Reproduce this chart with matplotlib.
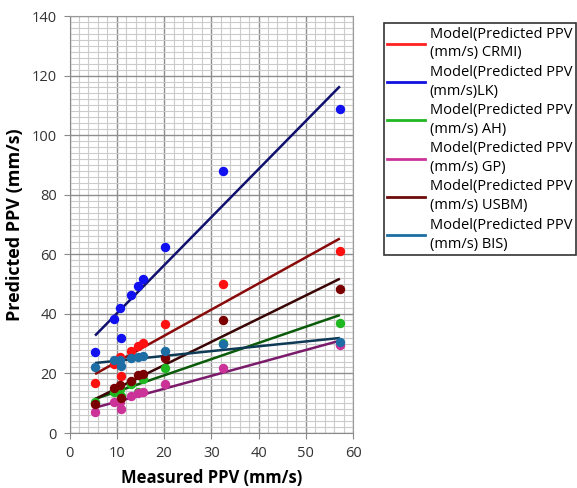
import matplotlib
matplotlib.use("Agg")
import matplotlib.pyplot as plt
from matplotlib.lines import Line2D
from matplotlib.ticker import MultipleLocator

# === DATA ===
measured = [5.4, 9.4, 10.7, 10.9, 13.0, 14.4, 15.6, 20.3, 32.5, 57.2]

crmi = [16.8, 23.2, 25.5, 19.2, 27.4, 29.3, 30.2, 36.5, 49.9, 61.1]
lk = [27.1, 38.3, 42.0, 31.9, 46.4, 49.3, 51.7, 62.5, 87.8, 108.8]
ah = [10.5, 13.7, 14.8, 12.5, 16.4, 13.9, 18.0, 21.9, 30.3, 37.0]
gp = [6.9, 10.3, 10.5, 8.2, 12.4, 13.3, 13.9, 16.6, 21.7, 29.5]
usbm = [9.7, 15.2, 16.1, 11.6, 17.4, 19.4, 19.9, 25.3, 37.8, 48.4]
bis = [22.1, 24.5, 24.6, 22.6, 25.3, 25.5, 25.9, 27.4, 29.9, 30.5]

# model (trend) lines: value at first and last measured point
line_x = [5.4, 57.2]
crmi_line = [19.8, 65.3]
lk_line = [32.7, 116.4]
ah_line = [11.4, 39.6]
gp_line = [8.5, 31.0]
usbm_line = [11.4, 51.8]
bis_line = [23.5, 31.9]

labels = ["Model(Predicted PPV\n(mm/s) CRMI)", "Model(Predicted PPV\n(mm/s)LK)",
          "Model(Predicted PPV\n(mm/s) AH)", "Model(Predicted PPV\n(mm/s) GP)",
          "Model(Predicted PPV\n(mm/s) USBM)", "Model(Predicted PPV\n(mm/s) BIS)"]

# === STYLE ===
point_colors = ["#FF1010", "#1010F0", "#20B820", "#CC3399", "#7A0000", "#1E6EA6"]
line_colors = ["#8A0A0A", "#10106E", "#0A5A0A", "#7A1A6A", "#3A0505", "#0E3A55"]
legend_colors = ["#FF2020", "#1010E0", "#20B820", "#CC3399", "#6E0A0A", "#1E6EA6"]

plt.rcParams["font.family"] = ["Open Sans", "DejaVu Sans"]

fig = plt.figure(figsize=(5.77, 4.88), dpi=100)
ax = fig.add_axes([0.1205, 0.1127, 0.4915, 0.8545])

series = [crmi, lk, ah, gp, usbm, bis]
lines = [crmi_line, lk_line, ah_line, gp_line, usbm_line, bis_line]

for lv, lc in zip(lines, line_colors):
    ax.plot(line_x, lv, color=lc, lw=1.8, zorder=3, solid_capstyle="butt")
for vals, pc in zip(series, point_colors):
    ax.scatter(measured, vals, s=46, color=pc, zorder=4, linewidths=0)

ax.set_xlim(0, 60)
ax.set_ylim(0, 140)
ax.xaxis.set_major_locator(MultipleLocator(10))
ax.xaxis.set_minor_locator(MultipleLocator(2))
ax.yaxis.set_major_locator(MultipleLocator(20))
ax.yaxis.set_minor_locator(MultipleLocator(2))
ax.grid(True, which="major", color="#8E8E8E", lw=1.0)
ax.grid(True, which="minor", color="#CBCBCB", lw=0.8)
ax.set_axisbelow(True)
for side in ["top", "right"]:
    ax.spines[side].set_color("#9A9A9A")
for side in ["left", "bottom"]:
    ax.spines[side].set_color("#8A8A8A")
ax.tick_params(which="major", direction="out", length=4, color="#8A8A8A",
               labelsize=10.5, labelcolor="#333333", pad=5)
ax.tick_params(which="minor", length=0)

ax.set_xlabel("Measured PPV (mm/s)", fontsize=12, fontweight="bold", labelpad=6)
ax.set_ylabel("Predicted PPV (mm/s)", fontsize=13, fontweight="bold", labelpad=6)

handles = [Line2D([0], [0], color=c, lw=2) for c in legend_colors]
leg = fig.legend(handles, labels, loc="upper left", bbox_to_anchor=(0.665, 0.953),
                 fontsize=10.5, frameon=True, fancybox=False, edgecolor="black",
                 handlelength=2.6, handletextpad=0.3, borderpad=0.25,
                 labelspacing=0.3, borderaxespad=0)
for t in leg.get_texts():
    t.set_linespacing(1.35)
leg.get_frame().set_linewidth(1.2)

fig.savefig("out.png", dpi=100)
